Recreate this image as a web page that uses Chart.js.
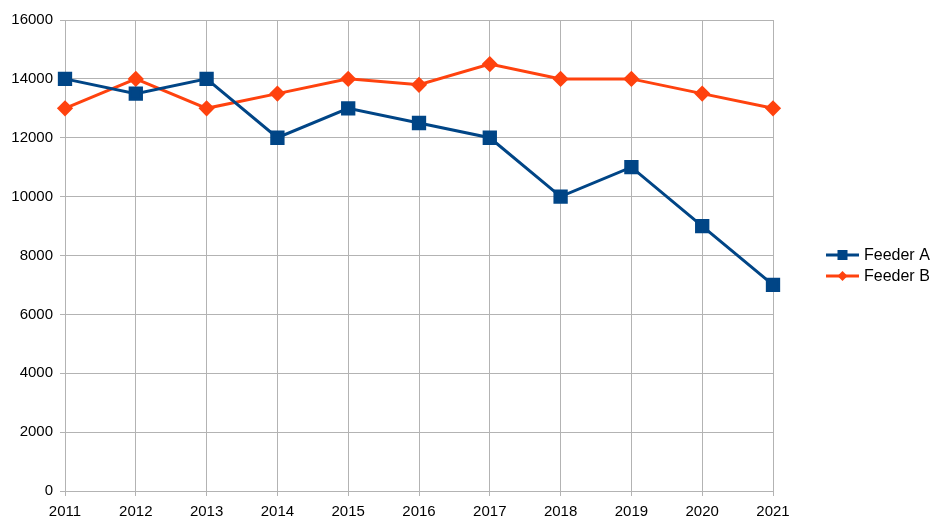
<!DOCTYPE html>
<html>
<head>
<meta charset="utf-8">
<script src="https://cdn.jsdelivr.net/npm/chart.js@4/dist/chart.umd.min.js"></script>
<style>
html,body{margin:0;padding:0;background:#fff;}
#wrap{width:943px;height:530px;}
</style>
</head>
<body>
<div id="wrap"><canvas id="c" width="943" height="530"></canvas></div>
<script>
const categories = ['2011','2012','2013','2014','2015','2016','2017','2018','2019','2020','2021'];
const feederA = [14000,13500,14000,12000,13000,12500,12000,10000,11000,9000,7000];
const feederB = [13000,14000,13000,13500,14000,13800,14500,14000,14000,13500,13000];
const seriesNames = ['Feeder A','Feeder B'];
const yTicks = [0,2000,4000,6000,8000,10000,12000,14000,16000];

const FONT = "'Liberation Sans', Arial, sans-serif";

const legendPlugin = {
  id: 'sideLegend',
  afterDraw(chart) {
    const ctx = chart.ctx;
    const ds = chart.data.datasets;
    const x0 = 826, x1 = 859, tx = 864;
    const ys = [255, 276];
    ctx.save();
    ds.forEach((d, i) => {
      const y = ys[i];
      ctx.strokeStyle = d.borderColor;
      ctx.lineWidth = 3;
      ctx.beginPath(); ctx.moveTo(x0, y); ctx.lineTo(x1, y); ctx.stroke();
      ctx.fillStyle = d.borderColor;
      const cx = (x0 + x1) / 2;
      if (i === 0) {
        ctx.fillRect(cx - 5, y - 5, 10, 10);
      } else {
        ctx.beginPath();
        ctx.moveTo(cx, y - 5); ctx.lineTo(cx + 5, y); ctx.lineTo(cx, y + 5); ctx.lineTo(cx - 5, y);
        ctx.closePath(); ctx.fill();
      }
      ctx.fillStyle = '#000';
      ctx.font = '16px ' + FONT;
      ctx.textBaseline = 'middle';
      ctx.textAlign = 'left';
      ctx.fillText(d.label, tx, y + 1);
    });
    ctx.restore();
  }
};

new Chart(document.getElementById('c'), {
  type: 'line',
  data: {
    labels: categories,
    datasets: [
      { label: seriesNames[0], data: feederA, borderColor: '#004586', backgroundColor: '#004586',
        borderWidth: 3, pointStyle: 'rect', pointRadius: 8, pointHoverRadius: 8, tension: 0, fill: false },
      { label: seriesNames[1], data: feederB, borderColor: '#ff420e', backgroundColor: '#ff420e',
        borderWidth: 3, pointStyle: 'rectRot', pointRadius: 6, pointHoverRadius: 6, tension: 0, fill: false }
    ]
  },
  options: {
    responsive: false,
    animation: false,
    devicePixelRatio: 1,
    layout: { padding: { top: 20, right: 170, left: 0, bottom: 0 } },
    plugins: { legend: { display: false }, tooltip: { enabled: false } },
    scales: {
      x: {
        offset: false,
        grid: { color: '#b3b3b3', lineWidth: 1, tickLength: 5, drawTicks: true },
        border: { color: '#b3b3b3' },
        ticks: { color: '#000', font: { family: FONT, size: 15 }, padding: 7, maxRotation: 0, autoSkip: false },
        afterFit(s) { s.height = 39; }
      },
      y: {
        min: 0, max: 16000,
        afterBuildTicks(s) { s.ticks = yTicks.map(v => ({ value: v })); },
        grid: { color: '#b3b3b3', lineWidth: 1, tickLength: 5 },
        border: { color: '#b3b3b3' },
        ticks: { color: '#000', font: { family: FONT, size: 15 }, padding: 7, callback: v => String(v) },
        afterFit(s) { s.width = 65; }
      }
    }
  },
  plugins: [legendPlugin]
});
</script>
</body>
</html>
